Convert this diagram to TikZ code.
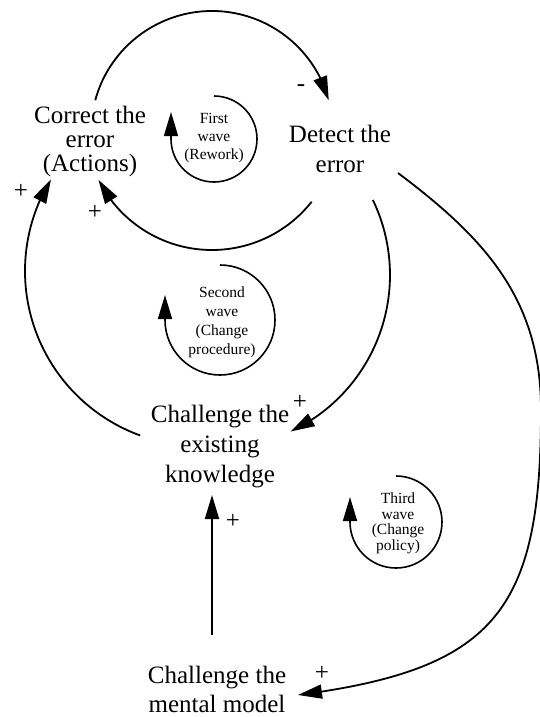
\documentclass[tikz,border=0pt]{standalone}
\usepackage{fontspec}
\setmainfont{Liberation Serif}
\usetikzlibrary{arrows.meta,bending}
\begin{document}
\begin{tikzpicture}[x=1pt,y=1pt,
  conn/.style={line width=1.8pt,-{Triangle[length=24pt,width=14pt]}},
  loopline/.style={line width=1.6pt,-{Triangle[length=24pt,width=14pt]}},
  big/.style={align=center,inner sep=0pt,anchor=base},
  small/.style={align=center,inner sep=0pt,anchor=base},
  sign/.style={inner sep=0pt,font=\fontsize{25}{25}\selectfont}]
\useasboundingbox (0,0) rectangle (539,-717);

% main nodes (anchor = baseline of the last line)
\node[big,font=\fontsize{25}{24}\selectfont] (corr) at (90,-171.7) {Correct the\\error\\(Actions)};
\node[big,font=\fontsize{25}{30}\selectfont] (det) at (340,-172.7) {Detect the\\error};
\node[big,font=\fontsize{25}{30}\selectfont] (know) at (220,-482) {Challenge the\\existing\\knowledge};
\node[big,font=\fontsize{25}{29}\selectfont] (ment) at (217,-712) {Challenge the\\mental model};

% loop labels
\node[small,font=\fontsize{15.5}{18}\selectfont] (w1) at (214,-159.3) {First\\wave\\(Rework)};
\node[small,font=\fontsize{15.5}{19}\selectfont] (w2) at (222,-354) {Second\\wave\\(Change\\procedure)};
\node[small,font=\fontsize{15.5}{15.5}\selectfont] (w3) at (398,-550) {Third\\wave\\(Change\\policy)};

% polarity signs
\node[sign] (s1) at (301,-88) {-};
\node[sign] (s2) at (95,-212) {+};
\node[sign] (s3) at (21,-191.5) {+};
\node[sign] (s4) at (300,-402) {+};
\node[sign] (s5) at (233,-521) {+};
\node[sign] (s6) at (322,-673) {+};

% arc centres and end points
\coordinate (c1) at (212,-132);
\coordinate (c2) at (212,-123);
\coordinate (c3) at (217,-275);
\coordinate (c4) at (200,-271);
\coordinate (w1c) at (214,-139);
\coordinate (w2c) at (220,-320);
\coordinate (w3c) at (396,-522);
\coordinate (d5s) at (398,-173);
\coordinate (d5m) at (541,-410);
\coordinate (m5e) at (298,-695);
\coordinate (vs) at (212,-635);
\coordinate (ve) at (212,-495);

% Correct -> Detect (-)
\draw[conn] (c1) ++(164.8:121) arc[start angle=164.8,end angle=15.2,radius=121];
% Detect -> Correct (+)
\draw[conn] (c2) ++(-38.3:127) arc[start angle=-38.3,end angle=-153.4,radius=127];
% Detect -> Challenge existing knowledge (+)
\draw[conn] (c3) ++(25.7:173) arc[start angle=25.7,end angle=-64.8,radius=173];
% Challenge existing knowledge -> Correct (+)
\draw[conn] (c4) ++(250:175) arc[start angle=250,end angle=148.4,radius=175];
% Detect -> Challenge mental model (+)
\draw[conn] (d5s) .. controls (486,-239) and (541,-300) .. (d5m)
  .. controls (541,-610) and (496,-669) .. (m5e);
% Challenge mental model -> Challenge existing knowledge (+)
\draw[conn] (vs) -- (ve);

% wave loops
\draw[loopline] (w1c) ++(90:43) arc[start angle=90,end angle=-180,radius=43] -- ++(0,27);
\draw[loopline] (w2c) ++(90:55) arc[start angle=90,end angle=-180,radius=55] -- ++(0,25);
\draw[loopline] (w3c) ++(90:46) arc[start angle=90,end angle=-180,radius=46] -- ++(0,25);
\end{tikzpicture}
\end{document}
